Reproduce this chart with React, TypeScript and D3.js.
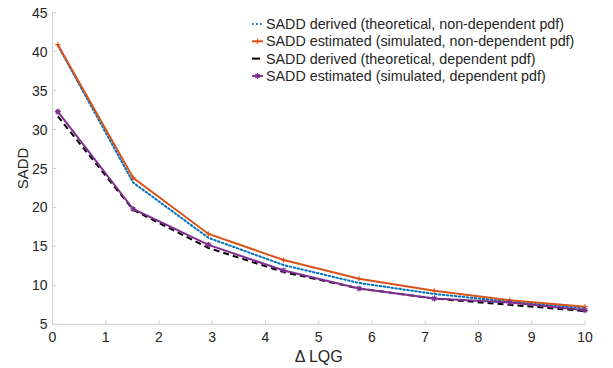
import React from "react";
import * as d3 from "d3";

const xValues = [0.1, 1.514, 2.929, 4.343, 5.757, 7.171, 8.586, 10];
const derivedNonDep = [40.8, 23.2, 16.1, 12.6, 10.3, 8.9, 7.9, 7.05];
const estimatedNonDep = [40.9, 23.8, 16.6, 13.25, 10.85, 9.3, 8.1, 7.25];
const derivedDep = [31.7, 19.7, 14.8, 11.7, 9.6, 8.3, 7.5, 6.7];
const estimatedDep = [32.3, 19.8, 15.2, 11.9, 9.6, 8.3, 7.8, 6.8];
const xTicks = [0, 1, 2, 3, 4, 5, 6, 7, 8, 9, 10];
const yTicks = [5, 10, 15, 20, 25, 30, 35, 40, 45];
const legendLabels = [
  "SADD derived (theoretical, non-dependent pdf)",
  "SADD estimated (simulated, non-dependent pdf)",
  "SADD derived (theoretical, dependent pdf)",
  "SADD estimated (simulated, dependent pdf)",
];

const W = 613, H = 368;
const M = { left: 52.5, right: 585, top: 12.7, bottom: 324.3 };
const FONT = "'Liberation Sans', Arial, Helvetica, sans-serif";

type S = { values: number[]; color: string; dash?: string; marker?: "plus" | "star"; width: number };
const series: S[] = [
  { values: derivedNonDep, color: "#0072BD", dash: "1.6 2.4", width: 2 },
  { values: estimatedNonDep, color: "#D95319", marker: "plus", width: 2 },
  { values: derivedDep, color: "#000000", dash: "6 4", width: 2 },
  { values: estimatedDep, color: "#7E2F8E", marker: "star", width: 2 },
];

function Marker({ x, y, type, color }: { x: number; y: number; type: "plus" | "star"; color: string }) {
  const r = type === "plus" ? 2.5 : 3;
  const d = type === "plus"
    ? `M${x - r},${y}H${x + r}M${x},${y - r}V${y + r}`
    : `M${x - r},${y}H${x + r}M${x},${y - r}V${y + r}M${x - r * 0.7},${y - r * 0.7}L${x + r * 0.7},${y + r * 0.7}M${x - r * 0.7},${y + r * 0.7}L${x + r * 0.7},${y - r * 0.7}`;
  return <path d={d} stroke={color} strokeWidth={1.2} fill="none" />;
}

export default function App() {
  const x = d3.scaleLinear().domain([0, 10]).range([M.left, M.right]);
  const y = d3.scaleLinear().domain([5, 45]).range([M.bottom, M.top]);
  const line = d3.line<[number, number]>().x((d) => x(d[0])).y((d) => y(d[1]));
  const axisColor = "#d0d0d0";
  const textColor = "#262626";
  return (
    <svg width={W} height={H} style={{ position: "absolute", left: 0, top: 0, background: "#fff" }}>
      <rect x={0} y={0} width={W} height={H} fill="#fff" />
      {/* axes */}
      <line x1={M.left} x2={M.left} y1={M.top} y2={M.bottom} stroke={axisColor} strokeWidth={1} />
      <line x1={M.left} x2={M.right} y1={M.bottom} y2={M.bottom} stroke={axisColor} strokeWidth={1} />
      {yTicks.map((t) => (
        <g key={"y" + t}>
          <line x1={M.left} x2={M.left + 4} y1={y(t)} y2={y(t)} stroke={axisColor} />
          <text x={M.left - 5} y={y(t)} dy="0.36em" textAnchor="end" fontFamily={FONT} fontSize={14} fill={textColor}>{t}</text>
        </g>
      ))}
      {xTicks.map((t) => (
        <g key={"x" + t}>
          <line x1={x(t)} x2={x(t)} y1={M.bottom} y2={M.bottom - 4} stroke={axisColor} />
          <text x={x(t)} y={M.bottom + 18} textAnchor="middle" fontFamily={FONT} fontSize={14} fill={textColor}>{t}</text>
        </g>
      ))}
      <text x={(M.left + M.right) / 2} y={362} textAnchor="middle" fontFamily={FONT} fontSize={16} fill={textColor}>Δ LQG</text>
      <text transform={`translate(28,${(M.top + M.bottom) / 2}) rotate(-90)`} textAnchor="middle" fontFamily={FONT} fontSize={15} fill={textColor}>SADD</text>
      {/* series */}
      {series.map((s, i) => {
        const pts = xValues.map((xv, j) => [xv, s.values[j]] as [number, number]);
        return (
          <g key={"s" + i}>
            <path d={line(pts) || ""} fill="none" stroke={s.color} strokeWidth={s.width} strokeDasharray={s.dash} strokeLinecap={s.dash && s.dash.startsWith("1.6") ? "round" : "butt"} />
            {s.marker && pts.map((p, j) => <Marker key={j} x={x(p[0])} y={y(p[1])} type={s.marker!} color={s.color} />)}
          </g>
        );
      })}
      {/* legend */}
      {series.map((s, i) => {
        const ly = 24 + i * 17.3;
        return (
          <g key={"l" + i}>
            <line x1={252} x2={263} y1={ly} y2={ly} stroke={s.color} strokeWidth={s.width} strokeDasharray={s.dash ? (i === 0 ? "1.6 2.4" : "8 4") : undefined} />
            {s.marker && <Marker x={257.5} y={ly} type={s.marker} color={s.color} />}
            <text x={266} y={ly} dy="0.36em" fontFamily={FONT} fontSize={14.3} fill={textColor}>{legendLabels[i]}</text>
          </g>
        );
      })}
    </svg>
  );
}
